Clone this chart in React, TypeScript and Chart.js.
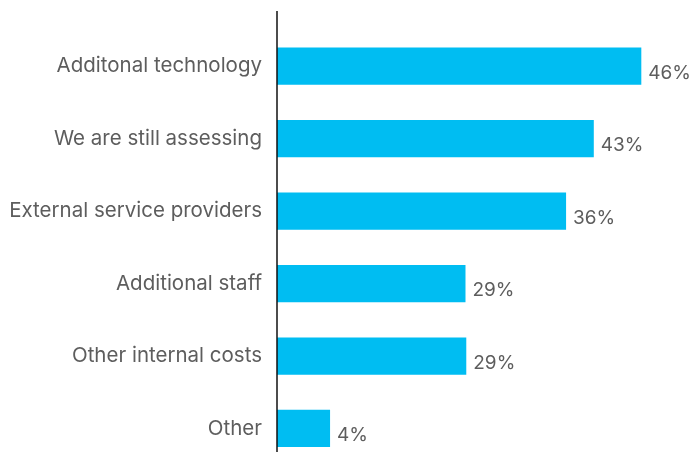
import React, { useEffect, useRef } from "react";
import { Chart, registerables } from "chart.js";

Chart.register(...registerables);

const categories = [
  "Additonal technology",
  "We are still assessing",
  "External service providers",
  "Additional staff",
  "Other internal costs",
  "Other",
];
// bar lengths as drawn in the picture
const barValues = [46, 40, 36.5, 23.8, 23.9, 6.7];
// printed value labels
const valueLabels = ["46%", "43%", "36%", "29%", "29%", "4%"];

const FONT = "Inter, 'Noto Sans', sans-serif";
const TEXT_COLOR = "#5d5d5d";

const valueLabelPlugin = {
  id: "valueLabels",
  afterDatasetsDraw(chart: any) {
    const ctx = chart.ctx;
    const meta = chart.getDatasetMeta(0);
    ctx.save();
    ctx.font = `19px ${FONT}`;
    ctx.fillStyle = TEXT_COLOR;
    ctx.textAlign = "left";
    ctx.textBaseline = "middle";
    meta.data.forEach((bar: any, i: number) => {
      ctx.fillText(valueLabels[i], bar.x + 7, bar.y + 7);
    });
    ctx.restore();
  },
};

const axisLinePlugin = {
  id: "axisLine",
  afterDraw(chart: any) {
    const ctx = chart.ctx;
    const x = chart.scales.x.left;
    ctx.save();
    ctx.strokeStyle = "#111";
    ctx.lineWidth = 1.5;
    ctx.beginPath();
    ctx.moveTo(x, 11);
    ctx.lineTo(x, chart.height);
    ctx.stroke();
    ctx.restore();
  },
};

export default function App() {
  const ref = useRef<HTMLCanvasElement | null>(null);
  useEffect(() => {
    if (!ref.current) return;
    const chart = new Chart(ref.current, {
      type: "bar",
      data: {
        labels: categories,
        datasets: [
          {
            data: barValues,
            backgroundColor: "#00BDF2",
            borderWidth: 0,
            categoryPercentage: 1,
            barPercentage: 37 / 72,
          },
        ],
      },
      options: {
        indexAxis: "y",
        animation: false,
        responsive: false,
        maintainAspectRatio: false,
        layout: { padding: { top: 30, right: 0, bottom: 0, left: 0 } },
        plugins: {
          legend: { display: false },
          tooltip: { enabled: false },
          title: { display: false },
        },
        scales: {
          x: {
            display: false,
            min: 0,
            max: 52.4,
          },
          y: {
            grid: { display: false, drawTicks: false },
            border: { display: false },
            ticks: {
              color: TEXT_COLOR,
              font: { family: FONT, size: 20.5 },
              padding: 15,
            },
            afterFit(scale: any) {
              scale.width = 277;
            },
          },
        },
      },
      plugins: [valueLabelPlugin, axisLinePlugin],
    });
    return () => chart.destroy();
  }, []);
  return (
    <div
      style={{
        position: "absolute",
        left: 0,
        top: 0,
        width: 692,
        height: 452,
        overflow: "hidden",
        background: "#fff",
      }}
    >
      <canvas ref={ref} width={692} height={492} style={{ display: "block" }} />
    </div>
  );
}
